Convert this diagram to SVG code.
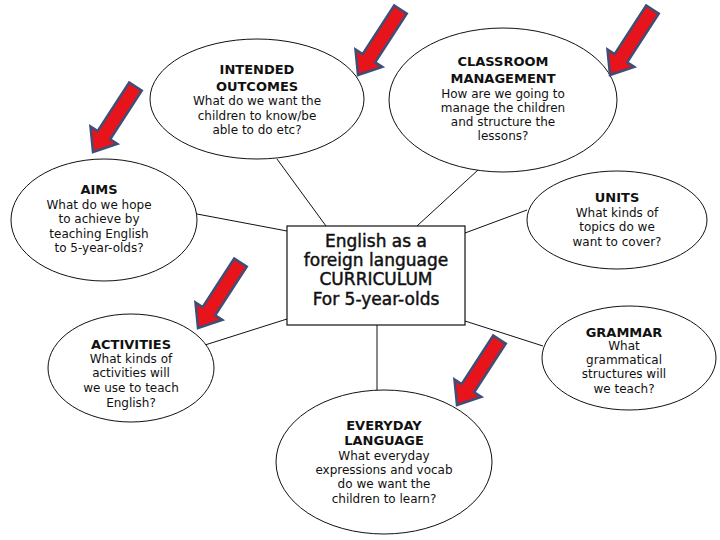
<svg xmlns="http://www.w3.org/2000/svg" xmlns:xlink="http://www.w3.org/1999/xlink" width="720" height="540" viewBox="0 0 720 540">
<style>
.bg{fill:#ffffff}
.node ellipse{fill:#ffffff;stroke:#111111;stroke-width:1}
.box{fill:#ffffff;stroke:#111111;stroke-width:1.2}
.conn line{stroke:#111111;stroke-width:1}
text{font-family:"DejaVu Sans","Liberation Sans",sans-serif;fill:#111111;text-anchor:middle}
.h{font-size:13px;font-weight:bold}
.b{font-size:12px}
.c{font-size:17px;stroke:#111111;stroke-width:0.45}
.arrow{fill:#e8141c;stroke:#3d4f77;stroke-width:2.5;stroke-linejoin:miter}
</style>
<defs>
<polygon id="arr" points="0,0 -20,-16 -20,-7.5 -78,-7.5 -78,7.5 -20,7.5 -20,16"/>
</defs>
<rect class="bg" x="0" y="0" width="720" height="540"/>

<g id="connectors" class="conn">
<line x1="277" y1="159" x2="326" y2="226"/>
<line x1="478" y1="170" x2="417" y2="226"/>
<line x1="197" y1="214" x2="287" y2="231"/>
<line x1="527" y1="210" x2="465" y2="233"/>
<line x1="205" y1="345" x2="287" y2="319"/>
<line x1="377" y1="325" x2="377" y2="391"/>
<line x1="465" y1="321" x2="543" y2="346"/>
</g>

<g id="center">
<rect class="box" x="287" y="226" width="178" height="99"/>
<text class="c" x="376" y="247">English as a</text>
<text class="c" x="376" y="266">foreign language</text>
<text class="c" x="376" y="285">CURRICULUM</text>
<text class="c" x="376" y="305">For 5-year-olds</text>
</g>

<g id="intended-outcomes" class="node">
<ellipse cx="257" cy="99" rx="107" ry="60"/>
<text class="h" x="257" y="74">INTENDED</text>
<text class="h" x="257" y="91">OUTCOMES</text>
<text class="b" x="257" y="105">What do we want the</text>
<text class="b" x="257" y="120">children to know/be</text>
<text class="b" x="257" y="134">able to do etc?</text>
</g>

<g id="classroom-management" class="node">
<ellipse cx="503" cy="100" rx="114" ry="72"/>
<text class="h" x="503" y="66">CLASSROOM</text>
<text class="h" x="503" y="83">MANAGEMENT</text>
<text class="b" x="503" y="98">How are we going to</text>
<text class="b" x="503" y="112">manage the children</text>
<text class="b" x="503" y="126">and structure the</text>
<text class="b" x="503" y="140">lessons?</text>
</g>

<g id="aims" class="node">
<ellipse cx="104" cy="220" rx="93" ry="61"/>
<text class="h" x="99" y="194">AIMS</text>
<text class="b" x="99" y="209">What do we hope</text>
<text class="b" x="99" y="223">to achieve by</text>
<text class="b" x="99" y="238">teaching English</text>
<text class="b" x="99" y="252">to 5-year-olds?</text>
</g>

<g id="units" class="node">
<ellipse cx="617" cy="220" rx="90" ry="49"/>
<text class="h" x="617" y="202">UNITS</text>
<text class="b" x="617" y="217">What kinds of</text>
<text class="b" x="617" y="231">topics do we</text>
<text class="b" x="617" y="246">want to cover?</text>
</g>

<g id="activities" class="node">
<ellipse cx="131" cy="368" rx="83" ry="54"/>
<text class="h" x="131" y="349">ACTIVITIES</text>
<text class="b" x="131" y="363">What kinds of</text>
<text class="b" x="131" y="377">activities will</text>
<text class="b" x="131" y="392">we use to teach</text>
<text class="b" x="131" y="407">English?</text>
</g>

<g id="grammar" class="node">
<ellipse cx="629" cy="358" rx="87" ry="52"/>
<text class="h" x="624" y="337">GRAMMAR</text>
<text class="b" x="624" y="350">What</text>
<text class="b" x="624" y="364">grammatical</text>
<text class="b" x="624" y="378">structures will</text>
<text class="b" x="624" y="393">we teach?</text>
</g>

<g id="everyday-language" class="node">
<ellipse cx="384" cy="462" rx="108" ry="72"/>
<text class="h" x="384" y="430">EVERYDAY</text>
<text class="h" x="384" y="445">LANGUAGE</text>
<text class="b" x="384" y="460">What everyday</text>
<text class="b" x="384" y="474">expressions and vocab</text>
<text class="b" x="384" y="488">do we want the</text>
<text class="b" x="384" y="503">children to learn?</text>
</g>

<g id="arrows">
<use xlink:href="#arr" href="#arr" class="arrow" transform="translate(358,75) rotate(123)"/>
<use xlink:href="#arr" href="#arr" class="arrow" transform="translate(610,75) rotate(123)"/>
<use xlink:href="#arr" href="#arr" class="arrow" transform="translate(93,152) rotate(123)"/>
<use xlink:href="#arr" href="#arr" class="arrow" transform="translate(198,328) rotate(123)"/>
<use xlink:href="#arr" href="#arr" class="arrow" transform="translate(457,405) rotate(123)"/>
</g>
</svg>
